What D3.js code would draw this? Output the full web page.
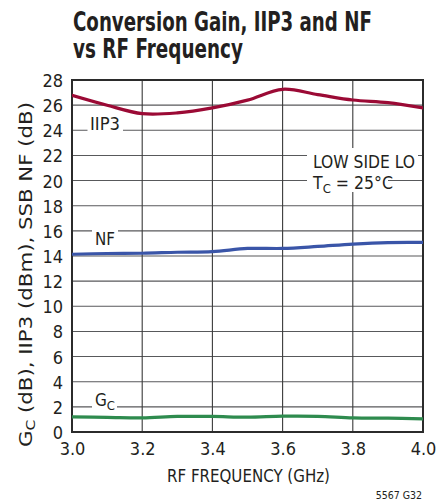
<!DOCTYPE html>
<html>
<head>
<meta charset="utf-8">
<script src="https://cdn.jsdelivr.net/npm/d3@7"></script>
<style>
  html, body { margin: 0; padding: 0; background: #fff; }
  svg { display: block; }
  text { font-family: "Liberation Sans Narrow", "DejaVu Sans Condensed", "Arial Narrow", "Liberation Sans", sans-serif; fill: #231f20; }
</style>
</head>
<body>
<svg id="chart" width="436" height="504"></svg>
<script>
const freqs = [3.0, 3.1, 3.2, 3.3, 3.4, 3.5, 3.6, 3.7, 3.8, 3.9, 4.0];
const iip3 = [26.78, 25.99, 25.32, 25.38, 25.78, 26.4, 27.26, 26.84, 26.41, 26.2, 25.78];
const nf = [14.14, 14.2, 14.22, 14.3, 14.35, 14.6, 14.6, 14.76, 14.95, 15.07, 15.08];
const gc = [1.2, 1.17, 1.13, 1.24, 1.24, 1.18, 1.26, 1.25, 1.13, 1.1, 1.05];
const xTicks = [3.0, 3.2, 3.4, 3.6, 3.8, 4.0];
const yTicks = [0, 2, 4, 6, 8, 10, 12, 14, 16, 18, 20, 22, 24, 26, 28];
const seriesNames = ["IIP3", "NF", "GC"];
const seriesColors = ["#9b0a35", "#3a55a8", "#2e8b4e"];

const svg = d3.select("#chart");
const M = { left: 72, right: 423, top: 80, bottom: 432 };
const x = d3.scaleLinear().domain([3.0, 4.0]).range([M.left, M.right]);
const y = d3.scaleLinear().domain([0, 28]).range([M.bottom, M.top]);

// scale a left-anchored text horizontally to a target width
function fitWidth(sel, x0, y0, target) {
  const w = sel.node().getComputedTextLength();
  const s = Math.min(1, target / w);
  sel.attr("x", 0).attr("y", 0)
    .attr("transform", `translate(${x0},${y0}) scale(${s},1)`);
}

// Title
const t1 = svg.append("text").attr("font-size", 26).attr("font-weight", "bold")
  .text("Conversion Gain, IIP3 and NF");
fitWidth(t1, 73, 30.5, 299);
const t2 = svg.append("text").attr("font-size", 26).attr("font-weight", "bold")
  .text("vs RF Frequency");
fitWidth(t2, 73, 58, 170);

// Grid
const grid = svg.append("g");
grid.selectAll("line.h").data(yTicks.slice(1, -1)).join("line")
  .attr("x1", M.left).attr("x2", M.right)
  .attr("y1", d => y(d)).attr("y2", d => y(d))
  .attr("stroke", "#58595b").attr("stroke-width", 1.1);
grid.selectAll("line.v").data(xTicks.slice(1, -1)).join("line")
  .attr("y1", M.top).attr("y2", M.bottom)
  .attr("x1", d => x(d)).attr("x2", d => x(d))
  .attr("stroke", "#3a3a3a").attr("stroke-width", 1.1);

// Label background boxes (gaps in grid)
const bg = svg.append("g").attr("fill", "#fff");
bg.append("rect").attr("x", 87.5).attr("y", y(24) - 14).attr("width", 35.5).attr("height", 16);
bg.append("rect").attr("x", 92).attr("y", y(16) - 2).attr("width", 26).attr("height", 16);
bg.append("rect").attr("x", 92).attr("y", y(2) - 12).attr("width", 25).attr("height", 16);
bg.append("rect").attr("x", 307).attr("y", 148).attr("width", 111).attr("height", 24);
bg.append("rect").attr("x", 307).attr("y", 172).attr("width", 81).attr("height", 20);

// Frame
svg.append("rect").attr("x", M.left).attr("y", M.top)
  .attr("width", M.right - M.left).attr("height", M.bottom - M.top)
  .attr("fill", "none").attr("stroke", "#2b2b2b").attr("stroke-width", 2);

// Axes tick labels via d3 axes
const yAxis = svg.append("g").attr("transform", `translate(${M.left},0)`)
  .call(d3.axisLeft(y).tickValues(yTicks).tickSize(0).tickPadding(9).tickFormat(d3.format("d")));
yAxis.select(".domain").remove();
yAxis.selectAll("text").attr("font-size", 18).attr("fill", "#231f20")
  .attr("font-family", null).attr("dy", "0.36em");

const xAxis = svg.append("g").attr("transform", `translate(0,${M.bottom})`)
  .call(d3.axisBottom(x).tickValues(xTicks).tickSize(0).tickPadding(10).tickFormat(d3.format(".1f")));
xAxis.select(".domain").remove();
xAxis.selectAll("text").attr("font-size", 18).attr("fill", "#231f20")
  .attr("font-family", null).attr("dy", "0.71em");

// Axis titles
svg.append("text").attr("x", 248.5).attr("y", 481.5).attr("text-anchor", "middle")
  .attr("font-size", 18.5).attr("textLength", 163).attr("lengthAdjust", "spacingAndGlyphs")
  .text("RF FREQUENCY (GHz)");

const yl = svg.append("text")
  .attr("transform", "translate(32,274.5) rotate(-90)")
  .attr("text-anchor", "middle").attr("font-size", 18)
  .attr("textLength", 345).attr("lengthAdjust", "spacingAndGlyphs");
yl.append("tspan").text("G");
yl.append("tspan").attr("font-size", 13).attr("dy", 3).text("C");
yl.append("tspan").attr("dy", -3).text(" (dB), IIP3 (dBm), SSB NF (dB)");

svg.append("text").attr("x", 422).attr("y", 499).attr("text-anchor", "end")
  .attr("font-size", 10.5).text("5567 G32");

// Lines
const seriesData = [iip3, nf, gc];
const line = d3.line().x((d, i) => x(freqs[i])).y(d => y(d)).curve(d3.curveCatmullRom.alpha(0.5));
const clip = svg.append("clipPath").attr("id", "clip").append("rect")
  .attr("x", M.left).attr("y", M.top).attr("width", M.right - M.left).attr("height", M.bottom - M.top);
svg.append("g").attr("clip-path", "url(#clip)")
  .selectAll("path").data(seriesData).join("path")
  .attr("d", d => line(d)).attr("fill", "none")
  .attr("stroke", (d, i) => seriesColors[i]).attr("stroke-width", 3.2)
  .attr("stroke-linejoin", "round").attr("stroke-linecap", "round");

// Annotations
svg.append("text").attr("x", 90).attr("y", y(24)).attr("font-size", 17)
  .attr("textLength", 30).attr("lengthAdjust", "spacingAndGlyphs").text(seriesNames[0]);
svg.append("text").attr("x", 95).attr("y", 245).attr("font-size", 17)
  .attr("textLength", 20).attr("lengthAdjust", "spacingAndGlyphs").text(seriesNames[1]);
const gcl = svg.append("text").attr("x", 95).attr("y", 406).attr("font-size", 17);
gcl.append("tspan").text("G");
gcl.append("tspan").attr("font-size", 13).attr("dy", 3.5).text("C");

svg.append("text").attr("x", 313).attr("y", 168).attr("font-size", 17.5)
  .attr("textLength", 102).attr("lengthAdjust", "spacingAndGlyphs").text("LOW SIDE LO");
const tc = svg.append("text").attr("x", 313).attr("y", 189).attr("font-size", 17.5);
tc.append("tspan").text("T");
tc.append("tspan").attr("font-size", 13).attr("dy", 4).text("C");
tc.append("tspan").attr("dy", -4).text(" = 25°C");
</script>
</body>
</html>
